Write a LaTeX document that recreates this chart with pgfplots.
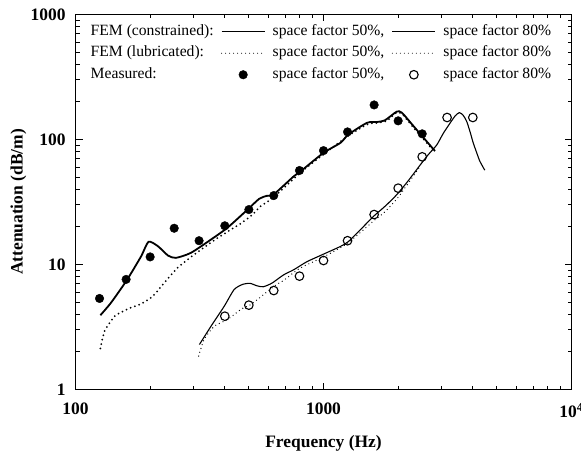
\documentclass[border=0pt]{standalone}
\usepackage{fontspec}
\setmainfont{Liberation Serif}
\usepackage{pgfplots}
\pgfplotsset{compat=1.18}
\pgfplotsset{markleg/.style={legend image code/.code={\draw[mark repeat=2,mark phase=2,##1] plot coordinates {(0bp,0bp) (21.5bp,0bp) (43bp,0bp)};}}}
\begin{document}
\begin{tikzpicture}
\begin{axis}[
  scale only axis, width=496bp, height=375bp,
  xmode=log, ymode=log,
  xmin=100, xmax=10000, ymin=1, ymax=1000,
  xtick={100,1000,10000}, xticklabels={100,1000,10\textsuperscript{4}},
  ytick={1,10,100,1000}, yticklabels={1,10,100,1000},
  minor xtick={200,300,400,500,600,700,800,900,2000,3000,4000,5000,6000,7000,8000,9000},
  minor ytick={2,3,4,5,6,7,8,9,20,30,40,50,60,70,80,90,200,300,400,500,600,700,800,900},
  tick label style={font=\bfseries\fontsize{17.5}{20}\selectfont},
  xticklabel style={yshift=-10bp},
  yticklabel style={xshift=-6.5bp},
  axis line style={line width=1.1bp},
  tick style={black, line width=0.8bp},
  major tick length=7bp, minor tick length=4bp,
  xlabel={Frequency (Hz)}, ylabel={Attenuation (dB/m)},
  every axis x label/.style={at={(rel axis cs:0.5,0)}, anchor=center, yshift=-53.5bp, font=\bfseries\fontsize{17.5}{20}\selectfont},
  every axis y label/.style={at={(rel axis cs:0,0.5)}, anchor=center, rotate=90, yshift=57bp, font=\bfseries\fontsize{17.5}{20}\selectfont},
  legend columns=3,
  legend image code/.code={\draw[#1] (0bp,0bp) -- (43bp,0bp);},
  legend style={at={(rel axis cs:0,1)}, anchor=north west, xshift=7.7bp, yshift=-10bp,
    draw=none, fill=none, inner sep=0pt, outer sep=0pt,
    font=\fontsize{15.7}{18}\selectfont,
    nodes={inner sep=0pt, text height=11bp, text depth=3.5bp},
    column sep=7.5bp, row sep=7bp},
  legend cell align=left,
]
\coordinate (ll) at (rel axis cs:0,0);
\coordinate (ur) at (rel axis cs:1,1);
% FEM constrained, 50%
\addplot[black, line width=1.8bp, smooth, tension=0.4, forget plot] coordinates {
(126,3.93) (139,4.94) (161,7.49) (184,11.65) (197,15.2) (215,14.0) (236,11.8) (254,11.3)
(292,12.4) (352,15.85) (410,19.7) (494,27.5) (550,33.5) (590,35.4) (630,36.4)
(760,50.9) (809,55.7) (1000,78.2) (1170,94) (1260,109.6) (1498,136) (1643,138)
(1774,143) (1973,167) (2070,164) (2306,128) (2816,80.8)};
% FEM lubricated, 50%
\addplot[black, line width=2bp, line cap=round, dash pattern=on 0bp off 4.5bp, smooth, tension=0.4, forget plot] coordinates {
(126,2.13) (131,2.93) (144,3.86) (163,4.42) (184,4.85) (205,5.58) (228,7.14) (258,9.4)
(301,12.0) (374,16.3) (464,21.3) (517,25.1) (558,29.3) (630,34.5) (800,53.5) (1000,76)
(1250,106) (1500,132) (1650,136) (1800,141) (1960,163) (2070,161) (2300,125) (2800,80)};
% FEM constrained, 80%
\addplot[black, line width=1.1bp, smooth, tension=0.4, forget plot] coordinates {
(316,2.29) (352,3.21) (398,4.64) (436,6.3) (471,6.92) (505,7.07) (540,6.75) (572,6.64)
(620,7.1) (689,8.24) (760,9.1) (855,10.5) (981,11.9) (1166,13.9) (1257,15.2) (1420,19.3)
(1592,24.3) (1780,29.5) (1977,36.3) (2200,47) (2453,62.5) (2650,76) (2861,90.4) (3041,112)
(3236,135) (3400,155) (3529,164) (3650,157) (3777,140) (3900,115) (4015,94) (4150,78)
(4270,67) (4470,56.8)};
% FEM lubricated, 80%
\addplot[black, line width=1.3bp, line cap=round, dash pattern=on 0bp off 4bp, smooth, tension=0.4, forget plot] coordinates {
(314,1.85) (330,2.51) (363,3.21) (410,3.63) (464,4.37) (505,4.74) (542,5.25) (632,6.7)
(700,7.6) (800,9.3) (1000,11.5) (1250,14.8) (1600,22.5) (1750,25.9) (2000,34.5) (2450,61)};
% Measured, 50%
\addplot[black, only marks, mark=*, mark size=4.3bp, forget plot] coordinates {
(125,5.35) (160,7.6) (200,11.5) (250,19.5) (315,15.5) (400,20.4) (500,27.5) (630,35.6)
(800,56.5) (1000,81.5) (1250,115) (1600,189) (2000,141) (2500,111)};
% Measured, 80%
\addplot[black, only marks, mark=o, mark size=4.3bp, line width=1.1bp, forget plot] coordinates {
(400,3.86) (500,4.73) (630,6.19) (800,8.07) (1000,10.76) (1250,15.5) (1600,25.1)
(2000,40.8) (2500,72.7) (3150,150) (4000,150)};
% legend
\addlegendimage{empty legend}\addlegendentry{FEM (constrained):}
\addlegendimage{black, line width=1.1bp}\addlegendentry{space factor 50\%,}
\addlegendimage{black, line width=1.1bp}\addlegendentry{space factor 80\%}
\addlegendimage{empty legend}\addlegendentry{FEM (lubricated):}
\addlegendimage{black, line width=1.1bp, line cap=round, dash pattern=on 0bp off 4bp}\addlegendentry{space factor 50\%,}
\addlegendimage{black, line width=1bp, line cap=round, dash pattern=on 0bp off 4bp}\addlegendentry{space factor 80\%}
\addlegendimage{empty legend}\addlegendentry{Measured:}
\addlegendimage{black, only marks, mark=*, mark size=4.3bp, markleg}\addlegendentry{space factor 50\%,}
\addlegendimage{black, only marks, mark=o, mark size=4.3bp, line width=1.1bp, markleg}\addlegendentry{space factor 80\%}
\end{axis}
\pgfresetboundingbox
\useasboundingbox ([shift={(-75.5bp,-65.5bp)}]ll) rectangle ([shift={(9.5bp,14.5bp)}]ur);
\end{tikzpicture}
\end{document}
